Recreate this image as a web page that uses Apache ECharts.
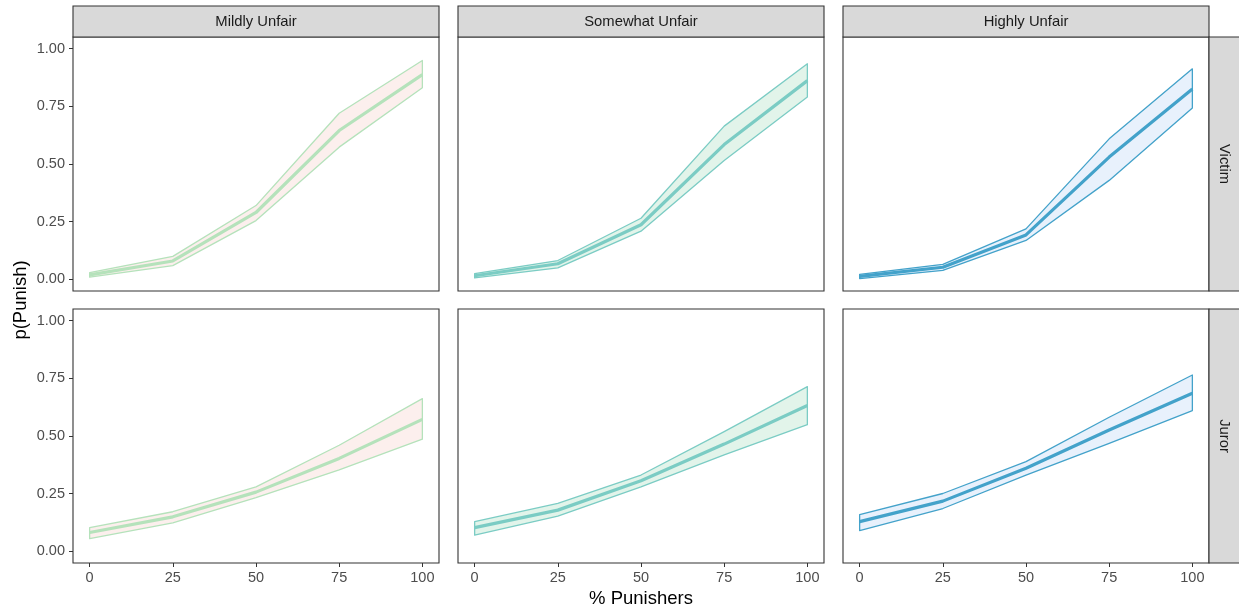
<!DOCTYPE html>
<html><head><meta charset="utf-8">
<script src="https://cdn.jsdelivr.net/npm/echarts@6/dist/echarts.min.js"></script>
<style>html,body{margin:0;padding:0;background:#fff}#c{width:1239px;height:611px}</style>
</head><body><div id="c"></div>
<script>
// ---- data ----
const punishers = [0, 25, 50, 75, 100];
const yTicks = [0, 0.25, 0.5, 0.75, 1];
const xTicks = [0, 25, 50, 75, 100];
const colLabels = ['Mildly Unfair', 'Somewhat Unfair', 'Highly Unfair'];
const rowLabels = ['Victim', 'Juror'];
const yTitle = 'p(Punish)';
const xTitle = '% Punishers';

const mildVictimLo   = [0.010, 0.060, 0.255, 0.573, 0.830];
const mildVictimMean = [0.020, 0.080, 0.290, 0.645, 0.887];
const mildVictimHi   = [0.030, 0.100, 0.320, 0.720, 0.948];

const someVictimLo   = [0.007, 0.050, 0.209, 0.515, 0.790];
const someVictimMean = [0.016, 0.068, 0.237, 0.584, 0.861];
const someVictimHi   = [0.025, 0.082, 0.265, 0.664, 0.934];

const highVictimLo   = [0.004, 0.039, 0.169, 0.429, 0.743];
const highVictimMean = [0.013, 0.053, 0.193, 0.530, 0.825];
const highVictimHi   = [0.022, 0.065, 0.219, 0.609, 0.912];

const mildJurorLo    = [0.056, 0.124, 0.233, 0.353, 0.486];
const mildJurorMean  = [0.082, 0.150, 0.257, 0.403, 0.572];
const mildJurorHi    = [0.103, 0.172, 0.280, 0.460, 0.662];

const someJurorLo    = [0.071, 0.153, 0.280, 0.418, 0.549];
const someJurorMean  = [0.103, 0.179, 0.306, 0.465, 0.632];
const someJurorHi    = [0.129, 0.208, 0.331, 0.519, 0.714];

const highJurorLo    = [0.090, 0.186, 0.331, 0.468, 0.610];
const highJurorMean  = [0.129, 0.218, 0.360, 0.526, 0.685];
const highJurorHi    = [0.160, 0.251, 0.389, 0.581, 0.764];

const lineColors = ['#b5e2bb', '#7bccc4', '#43a2ca'];
const fillColors = ['#fcefed', '#e2f4ea', '#e8f1fc'];

// ---- layout ----
const colLeft = [73, 458, 843];
const panelW = 366;
const rowTop = [37, 309];
const panelH = 254;

const panels = [
  {r:0,c:0,lo:mildVictimLo,mean:mildVictimMean,hi:mildVictimHi},
  {r:0,c:1,lo:someVictimLo,mean:someVictimMean,hi:someVictimHi},
  {r:0,c:2,lo:highVictimLo,mean:highVictimMean,hi:highVictimHi},
  {r:1,c:0,lo:mildJurorLo,mean:mildJurorMean,hi:mildJurorHi},
  {r:1,c:1,lo:someJurorLo,mean:someJurorMean,hi:someJurorHi},
  {r:1,c:2,lo:highJurorLo,mean:highJurorMean,hi:highJurorHi}
];

const FONT = '"Liberation Sans", Arial, Helvetica, sans-serif';
const grids = [], xAxes = [], yAxes = [], series = [];

panels.forEach((p, i) => {
  grids.push({left: colLeft[p.c], top: rowTop[p.r], width: panelW, height: panelH,
    show: true, borderColor: '#333333', borderWidth: 1.1, backgroundColor: '#ffffff'});
  const showX = p.r === 1, showY = p.c === 0;
  xAxes.push({type: 'value', gridIndex: i, min: -5, max: 105, position: 'bottom',
    axisLine: {show: false, onZero: false}, splitLine: {show: false},
    axisTick: {show: showX, length: 4, lineStyle: {color: '#333333', width: 1}, customValues: xTicks},
    axisLabel: {show: showX, customValues: xTicks, color: '#4d4d4d', fontSize: 14.5, fontFamily: FONT, margin: 7}
  });
  yAxes.push({type: 'value', gridIndex: i, min: -0.05, max: 1.05, position: 'left',
    axisLine: {show: false, onZero: false}, splitLine: {show: false},
    axisTick: {show: showY, length: 4, lineStyle: {color: '#333333', width: 1}, customValues: yTicks},
    axisLabel: {show: showY, customValues: yTicks, color: '#4d4d4d', fontSize: 14.5, fontFamily: FONT, margin: 8,
      formatter: v => v.toFixed(2)}
  });
  const lc = lineColors[p.c], fc = fillColors[p.c];
  const rib = punishers.map((x, k) => [x, p.lo[k], p.hi[k]]);
  series.push({
    type: 'custom', xAxisIndex: i, yAxisIndex: i, data: rib, encode: {x: 0, y: [1, 2]},
    silent: true, z: 2,
    renderItem: (params, api) => {
      if (params.dataIndex !== 0) return null;
      const pts = [];
      rib.forEach(d => pts.push(api.coord([d[0], d[2]])));
      for (let k = rib.length - 1; k >= 0; k--) pts.push(api.coord([rib[k][0], rib[k][1]]));
      return {type: 'polygon', shape: {points: pts},
        style: {fill: fc, stroke: lc, lineWidth: 1.3, lineJoin: 'round'}};
    }
  });
  series.push({
    type: 'line', xAxisIndex: i, yAxisIndex: i, z: 3, silent: true,
    data: punishers.map((x, k) => [x, p.mean[k]]),
    symbol: 'none', lineStyle: {color: lc, width: 3.2}
  });
});

const graphic = [];
colLabels.forEach((t, c) => {
  graphic.push({type: 'rect', shape: {x: colLeft[c], y: 6, width: panelW, height: 31},
    style: {fill: '#d9d9d9', stroke: '#333333', lineWidth: 1.1}, z: 10});
  graphic.push({type: 'text', x: colLeft[c] + panelW / 2, y: 21.5,
    style: {text: t, fill: '#1a1a1a', font: '14.8px ' + FONT, textAlign: 'center', textVerticalAlign: 'middle'}, z: 11});
});
rowLabels.forEach((t, r) => {
  graphic.push({type: 'rect', shape: {x: colLeft[2] + panelW, y: rowTop[r], width: 40, height: panelH},
    style: {fill: '#d9d9d9', stroke: '#333333', lineWidth: 1.1}, z: 10});
  graphic.push({type: 'text', x: colLeft[2] + panelW + 15.5, y: rowTop[r] + panelH / 2, rotation: -Math.PI / 2,
    style: {text: t, fill: '#1a1a1a', font: '14.8px ' + FONT, textAlign: 'center', textVerticalAlign: 'middle'}, z: 11});
});
graphic.push({type: 'text', x: 21, y: 300, rotation: Math.PI / 2,
  style: {text: yTitle, fill: '#000000', font: '18.5px ' + FONT, textAlign: 'center', textVerticalAlign: 'middle'}, z: 11});
graphic.push({type: 'text', x: 641, y: 599,
  style: {text: xTitle, fill: '#000000', font: '18.5px ' + FONT, textAlign: 'center', textVerticalAlign: 'middle'}, z: 11});

const chart = echarts.init(document.getElementById('c'), null, {renderer: 'canvas'});
chart.setOption({animation: false, backgroundColor: '#ffffff', grid: grids, xAxis: xAxes, yAxis: yAxes, series, graphic});
</script></body></html>
